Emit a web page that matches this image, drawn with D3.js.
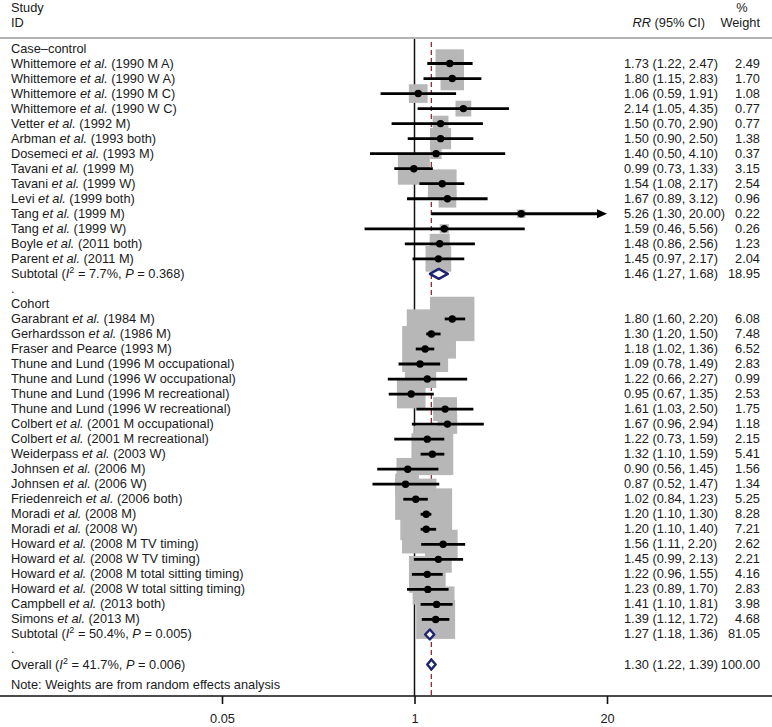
<!DOCTYPE html>
<html>
<head>
<meta charset="utf-8">
<script src="https://cdn.jsdelivr.net/npm/d3@7"></script>
<style>
  html, body { margin: 0; padding: 0; background: #fff; }
  svg { display: block; font-family: "Liberation Sans", Arial, Helvetica, sans-serif; }
</style>
</head>
<body>
<svg id="chart" width="772" height="727"></svg>
<script>
// ---------- DATA ----------
const caseControlStudies = [
  "Whittemore et al. (1990 M A)", "Whittemore et al. (1990 W A)", "Whittemore et al. (1990 M C)",
  "Whittemore et al. (1990 W C)", "Vetter et al. (1992 M)", "Arbman et al. (1993 both)",
  "Dosemeci et al. (1993 M)", "Tavani et al. (1999 M)", "Tavani et al. (1999 W)",
  "Levi et al. (1999 both)", "Tang et al. (1999 M)", "Tang et al. (1999 W)",
  "Boyle et al. (2011 both)", "Parent et al. (2011 M)"
];
const caseControlRR     = [1.73, 1.80, 1.06, 2.14, 1.50, 1.50, 1.40, 0.99, 1.54, 1.67, 5.26, 1.59, 1.48, 1.45];
const caseControlLower  = [1.22, 1.15, 0.59, 1.05, 0.70, 0.90, 0.50, 0.73, 1.08, 0.89, 1.30, 0.46, 0.86, 0.97];
const caseControlUpper  = [2.47, 2.83, 1.91, 4.35, 2.90, 2.50, 4.10, 1.33, 2.17, 3.12, 20.00, 5.56, 2.56, 2.17];
const caseControlWeight = [2.49, 1.70, 1.08, 0.77, 0.77, 1.38, 0.37, 3.15, 2.54, 0.96, 0.22, 0.26, 1.23, 2.04];

const cohortStudies = [
  "Garabrant et al. (1984 M)", "Gerhardsson et al. (1986 M)", "Fraser and Pearce (1993 M)",
  "Thune and Lund (1996 M occupational)", "Thune and Lund (1996 W occupational)",
  "Thune and Lund (1996 M recreational)", "Thune and Lund (1996 W recreational)",
  "Colbert et al. (2001 M occupational)", "Colbert et al. (2001 M recreational)",
  "Weiderpass et al. (2003 W)", "Johnsen et al. (2006 M)", "Johnsen et al. (2006 W)",
  "Friedenreich et al. (2006 both)", "Moradi et al. (2008 M)", "Moradi et al. (2008 W)",
  "Howard et al. (2008 M TV timing)", "Howard et al. (2008 W TV timing)",
  "Howard et al. (2008 M total sitting timing)", "Howard et al. (2008 W total sitting timing)",
  "Campbell et al. (2013 both)", "Simons et al. (2013 M)"
];
const cohortRR     = [1.80, 1.30, 1.18, 1.09, 1.22, 0.95, 1.61, 1.67, 1.22, 1.32, 0.90, 0.87, 1.02, 1.20, 1.20, 1.56, 1.45, 1.22, 1.23, 1.41, 1.39];
const cohortLower  = [1.60, 1.20, 1.02, 0.78, 0.66, 0.67, 1.03, 0.96, 0.73, 1.10, 0.56, 0.52, 0.84, 1.10, 1.10, 1.11, 0.99, 0.96, 0.89, 1.10, 1.12];
const cohortUpper  = [2.20, 1.50, 1.36, 1.49, 2.27, 1.35, 2.50, 2.94, 1.59, 1.59, 1.45, 1.47, 1.23, 1.30, 1.40, 2.20, 2.13, 1.55, 1.70, 1.81, 1.72];
const cohortWeight = [6.08, 7.48, 6.52, 2.83, 0.99, 2.53, 1.75, 1.18, 2.15, 5.41, 1.56, 1.34, 5.25, 8.28, 7.21, 2.62, 2.21, 4.16, 2.83, 3.98, 4.68];

const groupNames    = ["Case\u2013control", "Cohort"];
const pooledNames   = ["Subtotal", "Subtotal", "Overall"];
const pooledI2      = ["7.7%", "50.4%", "41.7%"];
const pooledP       = ["0.368", "0.005", "0.006"];
const pooledRR      = [1.46, 1.27, 1.30];
const pooledLower   = [1.27, 1.18, 1.22];
const pooledUpper   = [1.68, 1.36, 1.39];
const pooledWeight  = [18.95, 81.05, 100.00];

const axisTicks = [0.05, 1, 20];
const noteText = "Note: Weights are from random effects analysis";

// ---------- BUILD ROWS ----------
const rows = [];
rows.push({type: "group", label: groupNames[0]});
caseControlStudies.forEach((s, i) => rows.push({type: "study", label: s, rr: caseControlRR[i], lo: caseControlLower[i], hi: caseControlUpper[i], w: caseControlWeight[i]}));
rows.push({type: "pooled", k: 0});
rows.push({type: "blank"});
rows.push({type: "group", label: groupNames[1]});
cohortStudies.forEach((s, i) => rows.push({type: "study", label: s, rr: cohortRR[i], lo: cohortLower[i], hi: cohortUpper[i], w: cohortWeight[i]}));
rows.push({type: "pooled", k: 1});
rows.push({type: "blank"});
rows.push({type: "pooled", k: 2});
rows.forEach((r, i) => r.idx = i);
rows.filter(r => r.type === "pooled").forEach(r => {
  r.rr = pooledRR[r.k]; r.lo = pooledLower[r.k]; r.hi = pooledUpper[r.k]; r.w = pooledWeight[r.k];
});

// ---------- SCALES ----------
const W = 772, H = 727;
const svg = d3.select("#chart");
svg.append("rect").attr("width", W).attr("height", H).attr("fill", "#fff");

const x = d3.scaleLog().domain([0.05, 20]).range([222, 607]);
const y = d3.scaleLinear().domain([0, rows.length - 1]).range([48.5, 664.5]);
const boxSide = d3.scaleSqrt().domain([0, 1]).range([0, 18]);

const fontSize = 12.8;
const textColor = "#1a1a1a";
const axisY = 696;
const plotTop = 39;

const fmt = d3.format(".2f");

// ---------- HEADER ----------
const hdr = svg.append("g").attr("font-size", fontSize).attr("fill", textColor);
hdr.append("text").attr("x", 11).attr("y", 12).text("Study");
hdr.append("text").attr("x", 11).attr("y", 27).text("ID");
const rrHdr = hdr.append("text").attr("x", 705).attr("y", 27).attr("text-anchor", "end");
rrHdr.append("tspan").attr("font-style", "italic").text("RR");
rrHdr.append("tspan").text(" (95% CI)");
hdr.append("text").attr("x", 742).attr("y", 12).attr("text-anchor", "middle").text("%");
hdr.append("text").attr("x", 760).attr("y", 27).attr("text-anchor", "end").text("Weight");
svg.append("line").attr("x1", 0).attr("x2", W).attr("y1", 38).attr("y2", 38)
  .attr("stroke", "#9a9a9a").attr("stroke-width", 1.6);

// ---------- REFERENCE LINES ----------
svg.append("line").attr("x1", x(1)).attr("x2", x(1)).attr("y1", plotTop).attr("y2", axisY)
  .attr("stroke", "#111").attr("stroke-width", 1.5);
svg.append("line").attr("x1", x(pooledRR[2])).attr("x2", x(pooledRR[2])).attr("y1", plotTop + 3).attr("y2", axisY)
  .attr("stroke", "#8e2a3a").attr("stroke-width", 1.3).attr("stroke-dasharray", "5,3");

// ---------- BOXES ----------
const studies = rows.filter(r => r.type === "study");
svg.append("g").selectAll("rect").data(studies).join("rect")
  .attr("x", d => x(d.rr) - boxSide(d.w) / 2)
  .attr("y", d => y(d.idx) - boxSide(d.w) / 2)
  .attr("width", d => boxSide(d.w))
  .attr("height", d => boxSide(d.w))
  .attr("fill", "#b7b7b7");

// ---------- CI LINES & POINTS ----------
const xMax = x.domain()[1];
const ci = svg.append("g");
ci.selectAll("line").data(studies).join("line")
  .attr("x1", d => x(d.lo))
  .attr("x2", d => d.hi >= xMax ? x(xMax) - 8 : x(d.hi))
  .attr("y1", d => y(d.idx)).attr("y2", d => y(d.idx))
  .attr("stroke", "#000").attr("stroke-width", 2.8);
ci.selectAll("path").data(studies.filter(d => d.hi >= xMax)).join("path")
  .attr("d", d => {
    const xe = x(xMax), yy = y(d.idx);
    return `M${xe},${yy} L${xe - 10},${yy - 4.5} L${xe - 10},${yy + 4.5} Z`;
  })
  .attr("fill", "#000");
ci.selectAll("circle").data(studies).join("circle")
  .attr("cx", d => x(d.rr)).attr("cy", d => y(d.idx)).attr("r", 3.7).attr("fill", "#000");

// ---------- DIAMONDS ----------
const pooled = rows.filter(r => r.type === "pooled");
svg.append("g").selectAll("path").data(pooled).join("path")
  .attr("d", d => {
    const yy = y(d.idx);
    return `M${x(d.lo)},${yy} L${x(d.rr)},${yy - 5} L${x(d.hi)},${yy} L${x(d.rr)},${yy + 5} Z`;
  })
  .attr("fill", "#fff").attr("stroke", "#1c2470").attr("stroke-width", 2.4).attr("stroke-linejoin", "round");

// ---------- LEFT LABELS ----------
const lab = svg.append("g").attr("font-size", fontSize).attr("fill", textColor);
rows.forEach(r => {
  const t = lab.append("text").attr("x", 11).attr("y", y(r.idx) + 4);
  if (r.type === "group") t.text(r.label);
  else if (r.type === "blank") t.text(".");
  else if (r.type === "study") {
    const parts = r.label.split("et al.");
    if (parts.length === 2) {
      t.append("tspan").text(parts[0]);
      t.append("tspan").attr("font-style", "italic").text("et al.");
      t.append("tspan").text(parts[1]);
    } else t.text(r.label);
  } else if (r.type === "pooled") {
    t.append("tspan").text(pooledNames[r.k] + " (");
    t.append("tspan").attr("font-style", "italic").text("I");
    t.append("tspan").attr("font-size", fontSize * 0.7).attr("dy", -5).text("2");
    t.append("tspan").attr("dy", 5).text(" = " + pooledI2[r.k] + ", ");
    t.append("tspan").attr("font-style", "italic").text("P");
    t.append("tspan").text(" = " + pooledP[r.k] + ")");
  }
});
lab.append("text").attr("x", 11).attr("y", 689).text(noteText);

// ---------- RIGHT COLUMNS ----------
const est = rows.filter(r => r.type === "study" || r.type === "pooled");
const right = svg.append("g").attr("font-size", fontSize).attr("fill", textColor);
right.selectAll("text.ci").data(est).join("text").attr("class", "ci")
  .attr("x", 624).attr("y", d => y(d.idx) + 4)
  .text(d => `${fmt(d.rr)} (${fmt(d.lo)}, ${fmt(d.hi)})`);
right.selectAll("text.wt").data(est).join("text").attr("class", "wt")
  .attr("x", 760).attr("y", d => y(d.idx) + 4).attr("text-anchor", "end")
  .text(d => fmt(d.w));

// ---------- AXIS ----------
svg.append("line").attr("x1", 0).attr("x2", W).attr("y1", axisY).attr("y2", axisY)
  .attr("stroke", "#111").attr("stroke-width", 1.5);
const axis = d3.axisBottom(x).tickValues(axisTicks).tickSize(8).tickPadding(10)
  .tickFormat(d => String(d));
const ag = svg.append("g").attr("transform", `translate(0,${axisY})`).call(axis);
ag.select(".domain").remove();
ag.selectAll(".tick line").attr("stroke", "#111").attr("stroke-width", 1.6);
ag.selectAll(".tick text").attr("font-size", fontSize).attr("fill", textColor)
  .attr("font-family", "Liberation Sans, Arial, sans-serif");
</script>
</body>
</html>
